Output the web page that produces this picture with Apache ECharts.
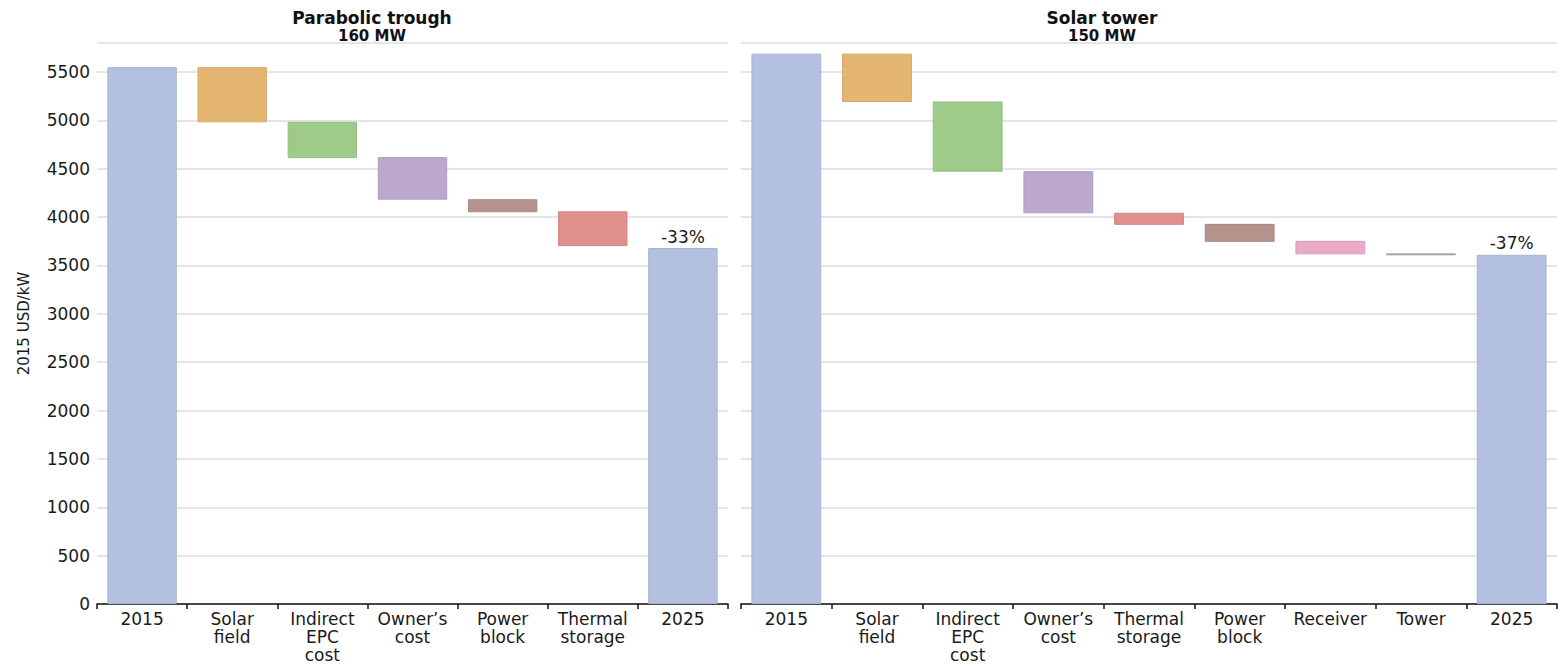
<!DOCTYPE html>
<html>
<head>
<meta charset="utf-8">
<script src="https://cdn.jsdelivr.net/npm/echarts@6/dist/echarts.min.js"></script>
<style>
  html, body { margin: 0; padding: 0; background: #fff; }
  #chart { width: 1559px; height: 664px; }
</style>
</head>
<body>
<div id="chart"></div>
<script>
// ---------- Data ----------
const yTicks = [0, 500, 1000, 1500, 2000, 2500, 3000, 3500, 4000, 4500, 5000, 5500];

const leftTitle = 'Parabolic trough';
const leftSubtitle = '160 MW';
const leftCategories = ['2015', 'Solar\nfield', 'Indirect\nEPC\ncost', 'Owner\u2019s\ncost', 'Power\nblock', 'Thermal\nstorage', '2025'];
const leftTop    = [5550, 5550, 4985, 4620, 4185, 4060, 3680];
const leftBottom = [0,    4980, 4610, 4180, 4050, 3700, 0];
const leftChange = '-33%';

const rightTitle = 'Solar tower';
const rightSubtitle = '150 MW';
const rightCategories = ['2015', 'Solar\nfield', 'Indirect\nEPC\ncost', 'Owner\u2019s\ncost', 'Thermal\nstorage', 'Power\nblock', 'Receiver', 'Tower', '2025'];
const rightTop    = [5690, 5690, 5195, 4475, 4045, 3930, 3755, 3625, 3610];
const rightBottom = [0,    5190, 4470, 4040, 3920, 3745, 3615, 3605, 0];
const rightChange = '-37%';

// ---------- Styles ----------
const COL = {
  total: '#b3c0e0', solar: '#e5b572', epc: '#9fcb8a', owner: '#bba8cc',
  power: '#b3938b', storage: '#e1908e', receiver: '#e9abc7', tower: '#a9a9a9'
};
const leftColors  = [COL.total, COL.solar, COL.epc, COL.owner, COL.power, COL.storage, COL.total];
const rightColors = [COL.total, COL.solar, COL.epc, COL.owner, COL.storage, COL.power, COL.receiver, COL.tower, COL.total];
const FONT = 'DejaVu Sans';

function darker(hex, f) {
  const n = parseInt(hex.slice(1), 16);
  const r = Math.round(((n >> 16) & 255) * f), g = Math.round(((n >> 8) & 255) * f), b = Math.round((n & 255) * f);
  return 'rgb(' + r + ',' + g + ',' + b + ')';
}

function xAxisFor(idx, cats) {
  return {
    type: 'category', gridIndex: idx, data: cats,
    axisLine: { show: true, lineStyle: { color: '#111', width: 1.5 } },
    axisTick: { show: true, length: 5, lineStyle: { color: '#111', width: 1.5 } },
    axisLabel: { interval: 0, color: '#1a1a1a', fontFamily: FONT, fontSize: 17, lineHeight: 18, margin: 6 },
    splitLine: { show: false }
  };
}
function yAxisFor(idx, showLabels) {
  return {
    type: 'value', gridIndex: idx, min: 0, max: 5800, interval: 500,
    name: showLabels ? '2015 USD/kW' : '',
    nameLocation: 'middle', nameGap: 66, nameRotate: 90,
    nameTextStyle: { color: '#1a1a1a', fontFamily: FONT, fontSize: 15 },
    axisLine: { show: false }, axisTick: { show: false },
    axisLabel: {
      show: showLabels, color: '#1a1a1a', fontFamily: FONT, fontSize: 17, margin: 7,
      showMaxLabel: false,
      formatter: v => (yTicks.indexOf(v) >= 0 ? String(v) : '')
    },
    splitLine: { show: true, lineStyle: { color: '#dcdcdc', width: 1.5 } }
  };
}
function seriesFor(idx, top, bottom, colors, change, name) {
  const last = top.length - 1;
  return [
    {
      name: name + ' base', type: 'bar', stack: name, xAxisIndex: idx, yAxisIndex: idx,
      barWidth: '77%', silent: true,
      itemStyle: { color: 'transparent' },
      data: bottom
    },
    {
      name: name, type: 'bar', stack: name, xAxisIndex: idx, yAxisIndex: idx,
      barWidth: '77%',
      data: top.map((t, i) => ({
        value: t - bottom[i],
        itemStyle: { color: colors[i], borderColor: darker(colors[i], 0.93), borderWidth: 1 }
      })),
      label: {
        show: true, position: 'top', distance: 3, color: '#1a1a1a', fontFamily: FONT, fontSize: 17,
        formatter: p => (p.dataIndex === last ? change : '')
      }
    }
  ];
}

const chart = echarts.init(document.getElementById('chart'), null, { renderer: 'svg' });
chart.setOption({
  animation: false,
  backgroundColor: '#fff',
  title: [
    { text: leftTitle, subtext: leftSubtitle, left: 367, top: 4, textAlign: 'center', itemGap: 2,
      textStyle: { fontFamily: FONT, fontSize: 17, fontWeight: 'bold', color: '#111' },
      subtextStyle: { fontFamily: FONT, fontSize: 15, fontWeight: 'bold', color: '#111' } },
    { text: rightTitle, subtext: rightSubtitle, left: 1097, top: 4, textAlign: 'center', itemGap: 2,
      textStyle: { fontFamily: FONT, fontSize: 17, fontWeight: 'bold', color: '#111' },
      subtextStyle: { fontFamily: FONT, fontSize: 15, fontWeight: 'bold', color: '#111' } }
  ],
  grid: [
    { left: 97, right: 831, top: 43, bottom: 58 },
    { left: 741, right: 2, top: 43, bottom: 58 }
  ],
  xAxis: [xAxisFor(0, leftCategories), xAxisFor(1, rightCategories)],
  yAxis: [yAxisFor(0, true), yAxisFor(1, false)],
  series: [].concat(
    seriesFor(0, leftTop, leftBottom, leftColors, leftChange, 'Parabolic trough'),
    seriesFor(1, rightTop, rightBottom, rightColors, rightChange, 'Solar tower')
  )
});
</script>
</body>
</html>
